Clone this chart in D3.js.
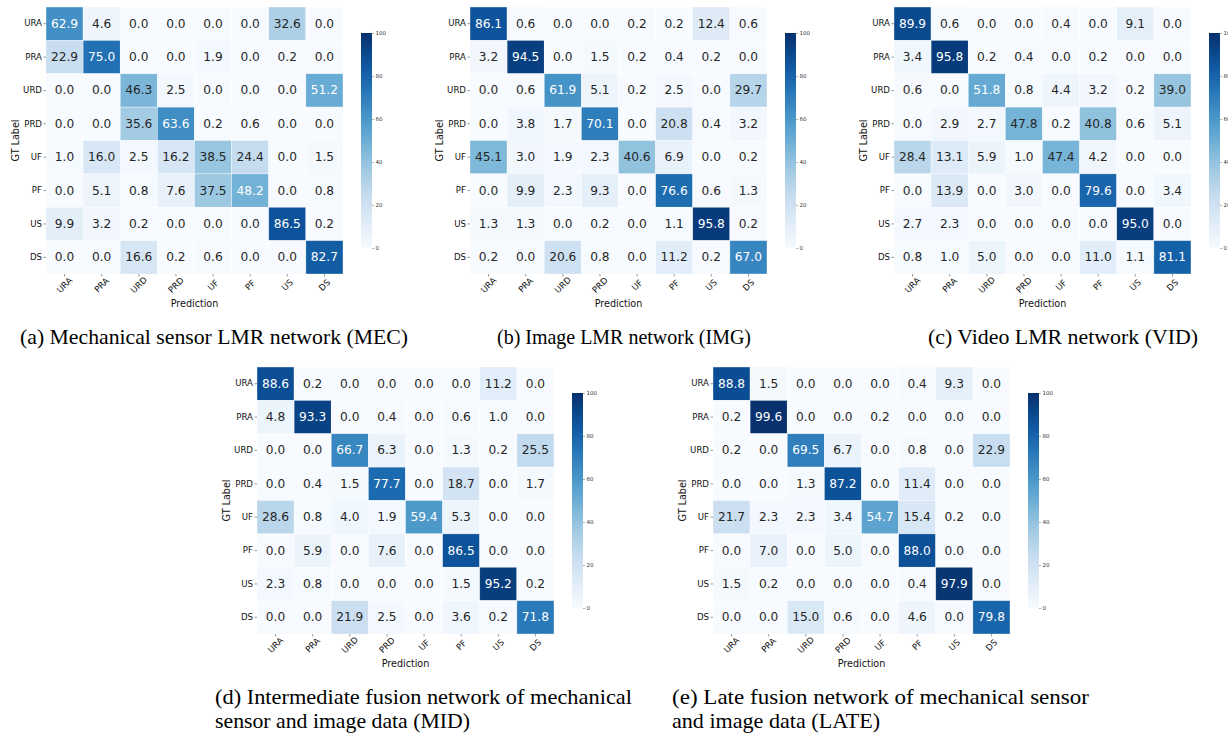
<!DOCTYPE html>
<html><head><meta charset="utf-8">
<script src="https://cdn.jsdelivr.net/npm/d3@7"></script>
<style>body{margin:0;background:#fff} svg{display:block}</style>
</head><body><svg id="chart" width="1228" height="734"></svg>
<script>
const categories = ["URA","PRA","URD","PRD","UF","PF","US","DS"];

const mecValues = [
  [62.9, 4.6, 0.0, 0.0, 0.0, 0.0, 32.6, 0.0],
  [22.9, 75.0, 0.0, 0.0, 1.9, 0.0, 0.2, 0.0],
  [0.0, 0.0, 46.3, 2.5, 0.0, 0.0, 0.0, 51.2],
  [0.0, 0.0, 35.6, 63.6, 0.2, 0.6, 0.0, 0.0],
  [1.0, 16.0, 2.5, 16.2, 38.5, 24.4, 0.0, 1.5],
  [0.0, 5.1, 0.8, 7.6, 37.5, 48.2, 0.0, 0.8],
  [9.9, 3.2, 0.2, 0.0, 0.0, 0.0, 86.5, 0.2],
  [0.0, 0.0, 16.6, 0.2, 0.6, 0.0, 0.0, 82.7]
];
const imgValues = [
  [86.1, 0.6, 0.0, 0.0, 0.2, 0.2, 12.4, 0.6],
  [3.2, 94.5, 0.0, 1.5, 0.2, 0.4, 0.2, 0.0],
  [0.0, 0.6, 61.9, 5.1, 0.2, 2.5, 0.0, 29.7],
  [0.0, 3.8, 1.7, 70.1, 0.0, 20.8, 0.4, 3.2],
  [45.1, 3.0, 1.9, 2.3, 40.6, 6.9, 0.0, 0.2],
  [0.0, 9.9, 2.3, 9.3, 0.0, 76.6, 0.6, 1.3],
  [1.3, 1.3, 0.0, 0.2, 0.0, 1.1, 95.8, 0.2],
  [0.2, 0.0, 20.6, 0.8, 0.0, 11.2, 0.2, 67.0]
];
const vidValues = [
  [89.9, 0.6, 0.0, 0.0, 0.4, 0.0, 9.1, 0.0],
  [3.4, 95.8, 0.2, 0.4, 0.0, 0.2, 0.0, 0.0],
  [0.6, 0.0, 51.8, 0.8, 4.4, 3.2, 0.2, 39.0],
  [0.0, 2.9, 2.7, 47.8, 0.2, 40.8, 0.6, 5.1],
  [28.4, 13.1, 5.9, 1.0, 47.4, 4.2, 0.0, 0.0],
  [0.0, 13.9, 0.0, 3.0, 0.0, 79.6, 0.0, 3.4],
  [2.7, 2.3, 0.0, 0.0, 0.0, 0.0, 95.0, 0.0],
  [0.8, 1.0, 5.0, 0.0, 0.0, 11.0, 1.1, 81.1]
];
const midValues = [
  [88.6, 0.2, 0.0, 0.0, 0.0, 0.0, 11.2, 0.0],
  [4.8, 93.3, 0.0, 0.4, 0.0, 0.6, 1.0, 0.0],
  [0.0, 0.0, 66.7, 6.3, 0.0, 1.3, 0.2, 25.5],
  [0.0, 0.4, 1.5, 77.7, 0.0, 18.7, 0.0, 1.7],
  [28.6, 0.8, 4.0, 1.9, 59.4, 5.3, 0.0, 0.0],
  [0.0, 5.9, 0.0, 7.6, 0.0, 86.5, 0.0, 0.0],
  [2.3, 0.8, 0.0, 0.0, 0.0, 1.5, 95.2, 0.2],
  [0.0, 0.0, 21.9, 2.5, 0.0, 3.6, 0.2, 71.8]
];
const lateValues = [
  [88.8, 1.5, 0.0, 0.0, 0.0, 0.4, 9.3, 0.0],
  [0.2, 99.6, 0.0, 0.0, 0.2, 0.0, 0.0, 0.0],
  [0.2, 0.0, 69.5, 6.7, 0.0, 0.8, 0.0, 22.9],
  [0.0, 0.0, 1.3, 87.2, 0.0, 11.4, 0.0, 0.0],
  [21.7, 2.3, 2.3, 3.4, 54.7, 15.4, 0.2, 0.0],
  [0.0, 7.0, 0.0, 5.0, 0.0, 88.0, 0.0, 0.0],
  [1.5, 0.2, 0.0, 0.0, 0.0, 0.4, 97.9, 0.0],
  [0.0, 0.0, 15.0, 0.6, 0.0, 4.6, 0.0, 79.8]
];
const colorbarTicks = [0, 20, 40, 60, 80, 100];
const captionA = ["(a) Mechanical sensor LMR network (MEC)"];
const captionB = ["(b) Image LMR network (IMG)"];
const captionC = ["(c) Video LMR network (VID)"];
const captionD = ["(d) Intermediate fusion network of mechanical", "sensor and image data (MID)"];
const captionE = ["(e) Late fusion network of mechanical sensor", "and image data (LATE)"];
const xTitle = "Prediction";
const yTitle = "GT Label";

// layout (positions only)
const panels = [
  {values: mecValues, caption: captionA, gx: 46,  gy: 7,   capX: 20,  capW: [388], capY: 344},
  {values: imgValues, caption: captionB, gx: 470, gy: 7,   capX: 497, capW: [254], capY: 344},
  {values: vidValues, caption: captionC, gx: 894, gy: 7,   capX: 928, capW: [270], capY: 344},
  {values: midValues, caption: captionD, gx: 257, gy: 367, capX: 215, capW: [417, 255], capY: 704},
  {values: lateValues, caption: captionE, gx: 713, gy: 367, capX: 672, capW: [417, 208], capY: 704}
];
const GW = 297, GH = 267;

const svg = d3.select("#chart");
const color = d3.scaleSequential(d3.interpolateBlues).domain([0, 100]);
function luminance(c) {
  const r = d3.rgb(c);
  const f = v => { v /= 255; return v <= 0.03928 ? v / 12.92 : Math.pow((v + 0.055) / 1.055, 2.4); };
  return 0.2126 * f(r.r) + 0.7152 * f(r.g) + 0.0722 * f(r.b);
}

const defs = svg.append("defs");
const grad = defs.append("linearGradient").attr("id", "cbgrad")
  .attr("x1", 0).attr("y1", 1).attr("x2", 0).attr("y2", 0);
d3.range(0, 101, 5).forEach(v => grad.append("stop").attr("offset", v + "%").attr("stop-color", color(v)));

panels.forEach((p, pi) => {
  const g = svg.append("g").attr("transform", `translate(${p.gx},${p.gy})`);
  const x = d3.scaleBand().domain(categories).range([0, GW]);
  const y = d3.scaleBand().domain(categories).range([0, GH]);

  const cells = [];
  p.values.forEach((row, i) => row.forEach((v, j) => cells.push({r: categories[i], c: categories[j], v})));

  g.selectAll("rect.cell").data(cells).join("rect").attr("class", "cell")
    .attr("x", d => x(d.c)).attr("y", d => y(d.r))
    .attr("width", x.bandwidth()).attr("height", y.bandwidth())
    .attr("fill", d => color(d.v))
    .attr("stroke", "#ffffff").attr("stroke-width", 0.6).attr("stroke-opacity", 0.6);

  g.selectAll("text.val").data(cells).join("text").attr("class", "val")
    .attr("x", d => x(d.c) + x.bandwidth() / 2)
    .attr("y", d => y(d.r) + y.bandwidth() / 2)
    .attr("text-anchor", "middle").attr("dominant-baseline", "central")
    .attr("font-family", "DejaVu Sans").attr("font-size", 12.2)
    .attr("fill", d => luminance(color(d.v)) < 0.408 ? "#ffffff" : "#262626")
    .text(d => d.v.toFixed(1));

  // y axis
  const yAxis = d3.axisLeft(y).tickSize(2.5).tickPadding(1.5);
  const ya = g.append("g").call(yAxis);
  ya.select(".domain").remove();
  ya.selectAll("line").attr("stroke", "#555").attr("stroke-width", 0.6);
  ya.selectAll("text").attr("font-family", "DejaVu Sans").attr("font-size", 8.6).attr("fill", "#111");

  // x axis
  const xAxis = d3.axisBottom(x).tickSize(2.5).tickPadding(0);
  const xa = g.append("g").attr("transform", `translate(0,${GH})`).call(xAxis);
  xa.select(".domain").remove();
  xa.selectAll("line").attr("stroke", "#555").attr("stroke-width", 0.6);
  xa.selectAll("text")
    .attr("font-family", "DejaVu Sans").attr("font-size", 8.6).attr("fill", "#111")
    .attr("y", 0).attr("dy", null)
    .attr("text-anchor", "middle").attr("dominant-baseline", "central")
    .attr("transform", "translate(0,11) rotate(-45)");

  g.append("text").attr("x", GW / 2).attr("y", GH + 33)
    .attr("text-anchor", "middle").attr("font-family", "DejaVu Sans").attr("font-size", 9.6)
    .attr("fill", "#111").text(xTitle);
  g.append("text").attr("transform", `translate(-27,${GH / 2}) rotate(-90)`)
    .attr("text-anchor", "middle").attr("font-family", "DejaVu Sans").attr("font-size", 9.6)
    .attr("fill", "#111").text(yTitle);

  // colorbar
  const cbx = GW + 18, cby = 26, cbh = GH - 52, cbw = 11;
  const cb = g.append("g").attr("transform", `translate(${cbx},${cby})`);
  cb.append("rect").attr("width", cbw).attr("height", cbh).attr("fill", "url(#cbgrad)");
  const cs = d3.scaleLinear().domain([0, 100]).range([cbh, 0]);
  const ca = cb.append("g").attr("transform", `translate(${cbw},0)`)
    .call(d3.axisRight(cs).tickValues(colorbarTicks).tickSize(2).tickPadding(1.5));
  ca.select(".domain").remove();
  ca.selectAll("line").attr("stroke", "#666").attr("stroke-width", 0.5);
  ca.selectAll("text").attr("font-family", "DejaVu Sans").attr("font-size", 5.5).attr("fill", "#333");

  // caption
  p.caption.forEach((line, li) => {
    svg.append("text").attr("x", p.capX).attr("y", p.capY + li * 24)
      .attr("font-family", "Liberation Serif").attr("font-size", 21).attr("fill", "#000")
      .attr("textLength", p.capW[li]).attr("lengthAdjust", "spacingAndGlyphs")
      .text(line);
  });
});
</script>
</body></html>
